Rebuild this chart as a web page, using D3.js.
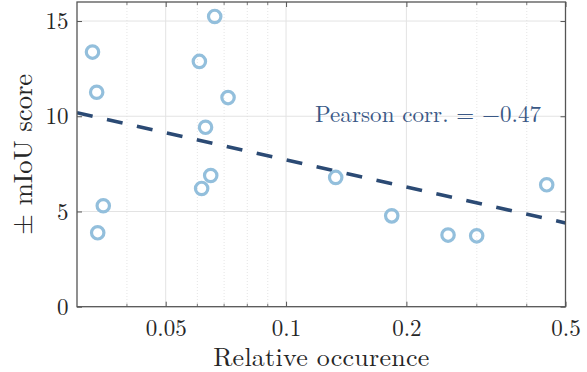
<!DOCTYPE html>
<html>
<head>
<meta charset="utf-8">
<script src="https://cdn.jsdelivr.net/npm/d3@7"></script>
<style>
  html, body { margin: 0; padding: 0; background: #fff; }
  svg { display: block; }
</style>
</head>
<body>
<svg id="chart" width="587" height="372"></svg>
<script>
// ---- data ----
const occurrence = [0.0328, 0.0336, 0.0338, 0.0349, 0.0607, 0.0615, 0.0629, 0.0648, 0.0663, 0.0716, 0.1331, 0.1838, 0.2542, 0.2998, 0.4487];
const miouScore  = [13.37, 11.26, 3.88, 5.30, 12.88, 6.21, 9.42, 6.89, 15.24, 10.98, 6.79, 4.77, 3.76, 3.72, 6.40];
const fitX = [0.03, 0.5];
const fitY = [10.19, 4.40];
const xMajorTicks = [0.05, 0.1, 0.2, 0.5];
const xTickLabels = ["0.05", "0.1", "0.2", "0.5"];
const xMinorTicks = [0.04, 0.06, 0.07, 0.08, 0.09, 0.3, 0.4];
const yTicks = [0, 5, 10, 15];
const yTickLabels = ["0", "5", "10", "15"];
const annotation = "Pearson corr. = \u22120.47";
const xTitle = "Relative occurence";
const yTitle = "\u00B1 mIoU score";

// ---- layout ----
const FONT = "'Latin Modern Roman', 'CMU Serif', 'Liberation Serif', serif";
const L = 77, R = 565.5, T = 2, B = 306.7;
const svg = d3.select("#chart");
const x = d3.scaleLog().domain([0.03, 0.5]).range([L, R]);
const y = d3.scaleLinear().domain([0, 16]).range([B, T]);

// grid
const grid = svg.append("g");
grid.selectAll(".ymaj").data(yTicks.filter(d => d > 0)).join("line")
  .attr("x1", L).attr("x2", R).attr("y1", d => y(d)).attr("y2", d => y(d))
  .attr("stroke", "#e3e3e3").attr("stroke-width", 1);
grid.selectAll(".xmaj").data(xMajorTicks.filter(d => d < 0.5)).join("line")
  .attr("x1", d => x(d)).attr("x2", d => x(d)).attr("y1", T).attr("y2", B)
  .attr("stroke", "#e3e3e3").attr("stroke-width", 1);
grid.selectAll(".xmin").data(xMinorTicks).join("line")
  .attr("x1", d => x(d)).attr("x2", d => x(d)).attr("y1", T).attr("y2", B)
  .attr("stroke", "#dedede").attr("stroke-width", 0.8).attr("stroke-dasharray", "1,2");

// fit line
svg.append("clipPath").attr("id", "plotclip").append("rect")
  .attr("x", L).attr("y", T).attr("width", R - L).attr("height", B - T);
svg.append("path")
  .datum(fitX.map((d, i) => [d, fitY[i]]))
  .attr("clip-path", "url(#plotclip)")
  .attr("d", d3.line().x(d => x(d[0])).y(d => y(d[1])))
  .attr("fill", "none").attr("stroke", "#2b4a74").attr("stroke-width", 3.6)
  .attr("stroke-dasharray", "16,14.7");

// points
svg.append("g").selectAll("circle").data(occurrence.map((d, i) => [d, miouScore[i]])).join("circle")
  .attr("cx", d => x(d[0])).attr("cy", d => y(d[1])).attr("r", 6.2)
  .attr("fill", "none").attr("stroke", "#93bfdc").attr("stroke-width", 3.2);

// axes + ticks
const axisCol = "#555";
const gxb = svg.append("g").attr("transform", `translate(0,${B})`)
  .call(d3.axisBottom(x).tickValues(xMajorTicks).tickFormat((d, i) => xTickLabels[i]).tickSizeInner(-5).tickSizeOuter(0));
const gxt = svg.append("g").attr("transform", `translate(0,${T})`)
  .call(d3.axisTop(x).tickValues(xMajorTicks).tickFormat("").tickSizeInner(-5).tickSizeOuter(0));
const gyl = svg.append("g").attr("transform", `translate(${L},0)`)
  .call(d3.axisLeft(y).tickValues(yTicks).tickFormat((d, i) => yTickLabels[i]).tickSizeInner(-5).tickSizeOuter(0).tickPadding(8.5));
const gyr = svg.append("g").attr("transform", `translate(${R},0)`)
  .call(d3.axisRight(y).tickValues(yTicks).tickFormat("").tickSizeInner(-5).tickSizeOuter(0));
[[B, -3], [T, 3]].forEach(([yy, len]) => {
  svg.append("g").selectAll("line").data(xMinorTicks).join("line")
    .attr("x1", d => x(d)).attr("x2", d => x(d)).attr("y1", yy).attr("y2", yy + len)
    .attr("stroke", axisCol).attr("stroke-width", 0.8);
});
[gxb, gxt, gyl, gyr].forEach(g => {
  g.attr("font-family", FONT);
  g.select(".domain").remove();
  g.selectAll(".tick line").attr("stroke", axisCol).attr("stroke-width", 1);
  g.selectAll(".tick text").attr("font-family", FONT).attr("font-size", 23).attr("fill", "#262626");
});
gxb.selectAll(".tick text").attr("y", 29.8).attr("dy", 0);
gyl.selectAll(".tick text").attr("dy", "0.33em");
svg.append("rect").attr("x", L).attr("y", T).attr("width", R - L).attr("height", B - T)
  .attr("fill", "none").attr("stroke", axisCol).attr("stroke-width", 1.3);

// titles
svg.append("text").attr("x", (L + R) / 2).attr("y", 365.5).attr("text-anchor", "middle")
  .attr("font-family", FONT).attr("fill", "#262626")
  .attr("font-size", 26).attr("textLength", 216).attr("lengthAdjust", "spacing").text(xTitle);
svg.append("text").attr("transform", `translate(32,${(T + B) / 2}) rotate(-90)`).attr("text-anchor", "middle")
  .attr("font-family", FONT).attr("fill", "#262626")
  .attr("font-size", 26.5).attr("textLength", 161).attr("lengthAdjust", "spacing").text(yTitle);

// annotation
svg.append("text").attr("x", 315).attr("y", 121.7).attr("font-family", FONT).attr("font-size", 23)
  .attr("textLength", 226).attr("lengthAdjust", "spacing")
  .attr("fill", "#3a5886").text(annotation);
</script>
</body>
</html>
